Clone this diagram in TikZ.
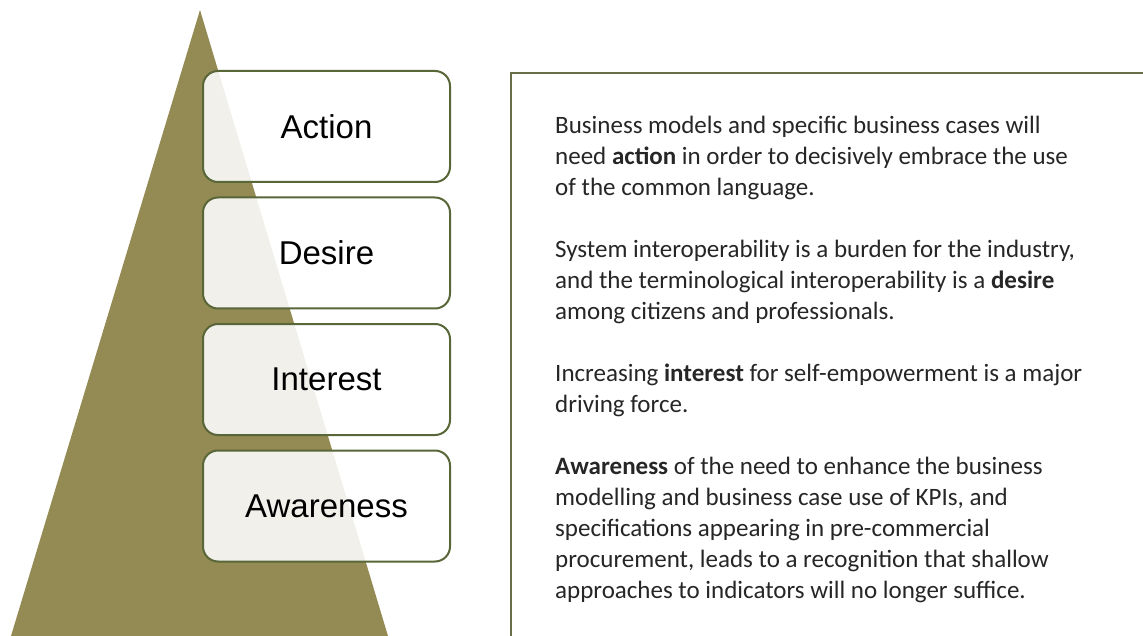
\documentclass[tikz,border=0pt]{standalone}
\usepackage{fontspec}
\setmainfont{Carlito}
\newfontfamily\labelfont{Liberation Sans}
\usetikzlibrary{positioning}

\definecolor{pyramid}{RGB}{148,138,84}
\definecolor{stageline}{RGB}{88,102,56}
\definecolor{frameline}{RGB}{104,112,74}
\definecolor{bodytext}{RGB}{38,38,38}

\tikzset{
  stage/.style={draw=stageline, line width=2pt, fill=white, fill opacity=0.88,
    text opacity=1, rounded corners=15pt, minimum width=247pt,
    minimum height=111pt, inner sep=0pt,
    font=\labelfont\fontsize{33}{36}\selectfont},
  notes/.style={anchor=north west, inner sep=0pt, align=left, text=bodytext,
    font=\fontsize{25}{31}\selectfont}
}

\begin{document}
\begin{tikzpicture}[x=1pt,y=-1pt]
  \useasboundingbox[fill=white] (0,0) rectangle (1143,636);

  % pyramid behind the stages
  \fill[pyramid] (200,10) -- (11,636) -- (388,636) -- cycle;

  % the four stages, top to bottom
  \node[stage] (action) at (326.5,126.5) {Action};
  \node[stage, below=13.5pt of action] (desire) {Desire};
  \node[stage, below=13.5pt of desire] (interest) {Interest};
  \node[stage, below=13.5pt of interest] (awareness) {Awareness};

  % open frame round the notes
  \draw[frameline, line width=2.5pt] (511,640) |- (1146,73);

  \node[notes] (desc) at (555,115.5) {%
    Business models and specific business cases will\\
    need \textbf{action} in order to decisively embrace the use\\
    of the common language.\\[31pt]
    System interoperability is a burden for the industry,\\
    and the terminological interoperability is a \textbf{desire}\\
    among citizens and professionals.\\[31pt]
    Increasing \textbf{interest} for self-empowerment is a major\\
    driving force.\\[31pt]
    \textbf{Awareness} of the need to enhance the business\\
    modelling and business case use of KPIs, and\\
    specifications appearing in pre-commercial\\
    procurement, leads to a recognition that shallow\\
    approaches to indicators will no longer suffice.};
\end{tikzpicture}
\end{document}
